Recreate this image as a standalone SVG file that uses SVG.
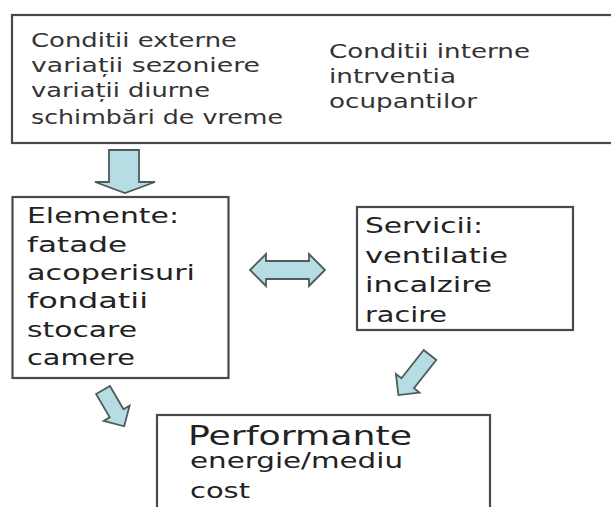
<svg xmlns="http://www.w3.org/2000/svg" width="611" height="507" viewBox="0 0 611 507">
<style>
.box{fill:#fff;stroke:#4a4a4a;stroke-width:2.2}
.arr{fill:#b5dde3;stroke:#4f5a5c;stroke-width:1.8;stroke-linejoin:miter}
.t1{font-family:"DejaVu Sans",sans-serif;font-size:19px;fill:#333}
.t2{font-family:"DejaVu Sans",sans-serif;font-size:21px;fill:#222}
.t3{font-family:"DejaVu Sans",sans-serif;font-size:27px;fill:#222}
</style>
<rect width="611" height="507" fill="#fff"/>
<g id="conditii">
<rect class="box" x="12" y="15" width="620" height="128"/>
<text class="t1" x="31" y="47" textLength="206" lengthAdjust="spacingAndGlyphs">Conditii externe</text>
<text class="t1" x="31" y="72" textLength="229" lengthAdjust="spacingAndGlyphs">variații sezoniere</text>
<text class="t1" x="31" y="97" textLength="179" lengthAdjust="spacingAndGlyphs">variații diurne</text>
<text class="t1" x="31" y="124" textLength="252" lengthAdjust="spacingAndGlyphs">schimbări de vreme</text>
<text class="t1" x="329" y="58" textLength="201" lengthAdjust="spacingAndGlyphs">Conditii interne</text>
<text class="t1" x="329" y="83" textLength="127" lengthAdjust="spacingAndGlyphs">intrventia</text>
<text class="t1" x="329" y="108" textLength="148" lengthAdjust="spacingAndGlyphs">ocupantilor</text>
</g>
<g id="elemente">
<rect class="box" x="12.5" y="197" width="216" height="181"/>
<text class="t2" x="27" y="223" textLength="152" lengthAdjust="spacingAndGlyphs">Elemente:</text>
<text class="t2" x="27" y="252" textLength="100" lengthAdjust="spacingAndGlyphs">fatade</text>
<text class="t2" x="27" y="280" textLength="168" lengthAdjust="spacingAndGlyphs">acoperisuri</text>
<text class="t2" x="27" y="308" textLength="121" lengthAdjust="spacingAndGlyphs">fondatii</text>
<text class="t2" x="27" y="337" textLength="110" lengthAdjust="spacingAndGlyphs">stocare</text>
<text class="t2" x="27" y="365" textLength="108" lengthAdjust="spacingAndGlyphs">camere</text>
</g>
<g id="servicii">
<rect class="box" x="357" y="207" width="216" height="123"/>
<text class="t2" x="365" y="233" textLength="118" lengthAdjust="spacingAndGlyphs">Servicii:</text>
<text class="t2" x="365" y="263" textLength="143" lengthAdjust="spacingAndGlyphs">ventilatie</text>
<text class="t2" x="365" y="292" textLength="127" lengthAdjust="spacingAndGlyphs">incalzire</text>
<text class="t2" x="365" y="322" textLength="82" lengthAdjust="spacingAndGlyphs">racire</text>
</g>
<g id="performante">
<rect class="box" x="157" y="415" width="333" height="120"/>
<text class="t3" x="188" y="445" textLength="224" lengthAdjust="spacingAndGlyphs">Performante</text>
<text class="t2" x="190" y="468" textLength="213" lengthAdjust="spacingAndGlyphs">energie/mediu</text>
<text class="t2" x="190" y="498" textLength="60" lengthAdjust="spacingAndGlyphs">cost</text>
</g>
<g id="connectors">
<path class="arr" d="M109,150 H139 V182 H155 L125,193 L95,182 H109 Z"/>
<path class="arr" d="M250,270 L266,254 V261 H309 V254 L325,270 L309,286 V279 H266 V286 Z"/>
<path class="arr" transform="translate(430,355) rotate(128.3)" d="M0,-8 H36 V-15 L51,0 L36,15 V8 H0 Z"/>
<path class="arr" transform="translate(103,390) rotate(59.7)" d="M0,-8 H27 V-15 L42,0 L27,15 V8 H0 Z"/>
</g>
</svg>
